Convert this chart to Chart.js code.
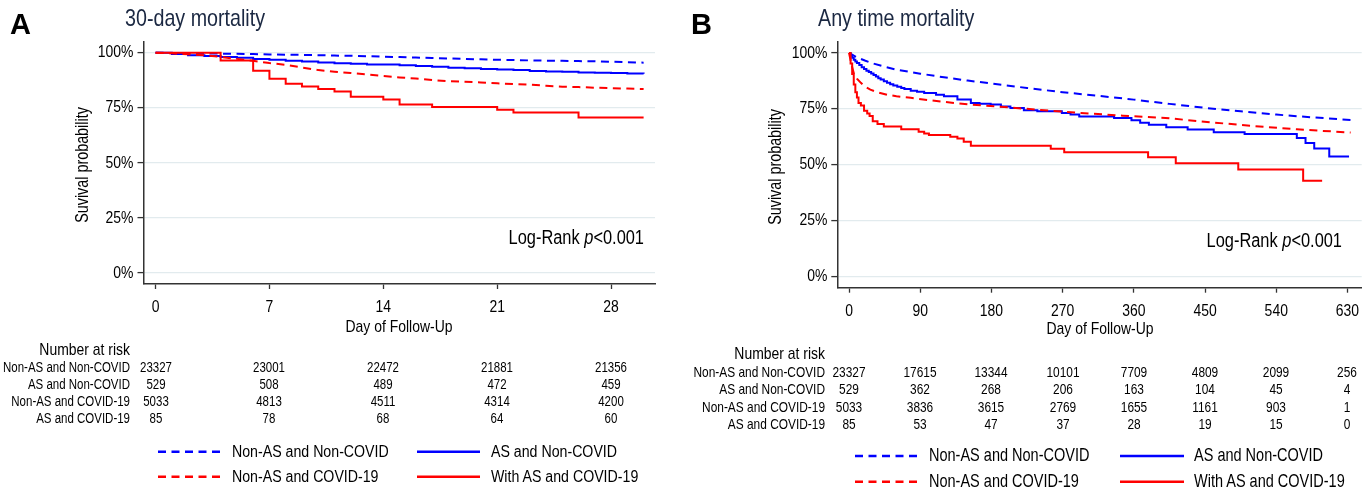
<!DOCTYPE html>
<html><head><meta charset="utf-8">
<script src="https://cdn.jsdelivr.net/npm/chart.js@4.4.1/dist/chart.umd.min.js"></script>
<style>
html,body{margin:0;padding:0;background:#fff;width:1372px;height:490px;overflow:hidden;}
body{position:relative;color:#000;}
.t{position:absolute;white-space:nowrap;line-height:1;}
canvas{position:absolute;top:0;}
svg{position:absolute;left:0;top:0;}
</style></head><body>
<canvas id="cA" width="686" height="345" style="left:0px"></canvas>
<canvas id="cB" width="682" height="345" style="left:690px"></canvas>
<svg id="lg" width="1372" height="490"></svg>
<script>
// ---------------- DATA ----------------
const groupNames = ["Non-AS and Non-COVID", "AS and Non-COVID", "Non-AS and COVID-19", "AS and COVID-19"];
const legendNames = ["Non-AS and Non-COVID", "AS and Non-COVID", "Non-AS and COVID-19", "With AS and COVID-19"];

// Panel A: 30-day mortality (survival %, by day)
const A_ticks = [0, 7, 14, 21, 28];
const A_days = [0,1,2,3,4,5,6,7,8,9,10,11,12,13,14,15,16,17,18,19,20,21,22,23,24,25,26,27,28,29,30];
const A_nonAS_nonCOVID = [100,99.9,99.8,99.7,99.6,99.5,99.4,99.2,99.1,99.0,98.9,98.7,98.6,98.4,98.2,98.0,97.8,97.6,97.4,97.2,97.0,96.8,96.7,96.5,96.4,96.3,96.2,96.1,95.9,95.7,95.5];
const A_AS_nonCOVID = [100,99.4,98.9,98.5,98.1,97.7,97.2,96.8,96.4,96.0,95.6,95.2,95.0,94.7,94.6,94.3,94.0,93.6,93.2,93.0,92.6,92.4,92.1,91.7,91.5,91.4,91.0,90.9,90.8,90.6,90.5];
const A_nonAS_COVID = [100,99.7,99.3,98.8,98.1,97.2,96.3,95.3,94.5,93.3,92.1,91.4,90.8,90.1,89.4,88.8,88.3,87.6,87.1,86.8,86.5,86.1,85.8,85.5,85.0,84.6,84.4,84.1,83.9,83.7,83.5];
const A_AS_COVID_days = [0,4,6,7,8,9,10,11,12,14,15,17,21,22,26,30];
const A_AS_COVID = [100,96.5,91.8,88.2,85.9,84.7,83.5,82.4,80.0,78.8,76.5,75.3,74.1,72.9,70.6,70.6];
const A_risk = [
  [23327, 23001, 22472, 21881, 21356],
  [529, 508, 489, 472, 459],
  [5033, 4813, 4511, 4314, 4200],
  [85, 78, 68, 64, 60]
];

// Panel B: any time mortality
const B_ticks = [0, 90, 180, 270, 360, 450, 540, 630];
const B_nonAS_nonCOVID_days = [0,10,20,30,45,60,90,120,150,180,225,270,315,360,405,450,495,540,585,634];
const B_nonAS_nonCOVID = [100,98.0,96.6,95.3,93.8,92.5,90.7,89.1,87.6,86.3,84.3,82.4,80.8,79.1,77.2,75.4,73.9,72.4,71.2,70.0];
const B_AS_nonCOVID_days = [0,2,4,6,8,10,13,16,19,22,25,28,31,34,37,40,44,48,52,56,61,66,70,78,86,95,110,120,137,154,165,179,192,204,221,238,269,280,291,335,357,368,379,401,428,461,500,566,577,588,607,632];
const B_AS_nonCOVID = [100,98.8,97.8,96.9,96.1,95.5,94.6,93.6,92.8,92.0,91.4,90.8,90.1,89.4,88.7,88.1,87.3,86.6,86.0,85.4,84.8,84.3,83.8,83.1,82.6,82.1,81.3,80.6,79.1,77.6,77.2,76.9,76.0,75.4,74.3,73.9,73.1,72.4,71.6,70.9,69.9,68.8,67.9,66.7,65.7,64.5,63.7,61.9,59.7,57.2,53.7,53.7];
const B_nonAS_COVID_days = [0,3,6,10,15,20,27,35,48,60,78,100,130,154,196,238,290,346,400,456,511,566,634];
const B_nonAS_COVID = [100,95.0,91.0,88.5,86.6,85.0,83.6,82.5,81.3,80.6,79.9,78.9,77.7,76.9,75.8,74.6,73.2,71.9,70.9,69.0,67.3,65.8,64.4];
const B_AS_COVID_days = [0,2,4,6,8,10,12,15,19,23,26,30,36,44,66,88,95,101,128,137,145,154,255,272,378,413,492,574,598];
const B_AS_COVID = [100,95.3,90.6,85.9,82.4,80.0,77.6,76.5,74.1,72.9,71.8,69.4,68.2,67.1,65.9,64.7,64.0,63.3,62.5,61.7,60.3,58.5,57.1,55.6,53.3,50.7,47.8,42.8,42.8];
const B_risk = [
  [23327, 17615, 13344, 10101, 7709, 4809, 2099, 256],
  [529, 362, 268, 206, 163, 104, 45, 4],
  [5033, 3836, 3615, 2769, 1655, 1161, 903, 1],
  [85, 53, 47, 37, 28, 19, 15, 0]
];
const Y_ticks = [0, 25, 50, 75, 100];

// ---------------- FONT ----------------
function hasFont(name){
  const ctx=document.createElement('canvas').getContext('2d');
  const s='Non-AS and Non-COVID 0123456789%';
  ctx.font='40px monospace'; const a=ctx.measureText(s).width;
  ctx.font='40px "'+name+'", monospace'; const b=ctx.measureText(s).width;
  ctx.font='40px serif'; const c=ctx.measureText(s).width;
  ctx.font='40px "'+name+'", serif'; const d=ctx.measureText(s).width;
  return Math.abs(a-b)>0.5 || Math.abs(c-d)>0.5;
}
const NARROW = ['Liberation Sans Narrow','Arial Narrow'].find(hasFont);
const FAM = NARROW ? '"'+NARROW+'", "Liberation Sans", Arial, sans-serif' : '"Liberation Sans", Arial, sans-serif';
const SX = NARROW ? 1 : 0.82;   // horizontal condensing to mimic a narrow face
const CANVAS_FS = 17;

const BLUE = '#0000ff', RED = '#ff0000';
const DASH = [8, 5.5];

// condense canvas tick labels around their anchor point
const narrowPlugin = {
  id: 'narrowText',
  beforeDraw(chart){
    if (SX === 1) return;
    const ctx = chart.ctx;
    const orig = ctx.fillText;
    chart.$origFill = orig;
    ctx.fillText = function(t, x, y){
      this.save(); this.translate(x, y); this.scale(SX, 1);
      orig.call(this, t, 0, 0);
      this.restore();
    };
  },
  afterDraw(chart){
    if (chart.$origFill) { delete chart.ctx.fillText; chart.$origFill = null; }
  }
};

// ---------------- TEXT HELPERS ----------------
function T(str, x, y, o){
  o = o || {};
  const d = document.createElement('div');
  d.className = 't';
  if (o.html) d.innerHTML = str; else d.textContent = str;
  d.style.left = x+'px'; d.style.top = y+'px';
  d.style.fontSize = (o.size||14)+'px';
  d.style.fontFamily = o.family || FAM;
  if (o.bold) d.style.fontWeight = 'bold';
  d.style.color = o.color || '#000';
  const al = o.align || 'left';
  const sx = o.noscale ? 1 : SX;
  let tr, orig;
  if (o.rotate) { tr = 'translate(-50%,-50%) rotate(-90deg) scaleX('+sx+')'; orig = 'center center'; }
  else if (al === 'left') { tr = 'translate(0,-50%) scaleX('+sx+')'; orig = 'left center'; }
  else if (al === 'right') { tr = 'translate(-100%,-50%) scaleX('+sx+')'; orig = 'right center'; }
  else { tr = 'translate(-50%,-50%) scaleX('+sx+')'; orig = 'center center'; }
  d.style.transform = tr; d.style.transformOrigin = orig;
  document.body.appendChild(d);
  return d;
}

// ---------------- CHARTS ----------------
function pts(xs, ys){ return xs.map((x,i)=>({x:x, y:ys[i]})); }

function makeKM(id, P){
  return new Chart(document.getElementById(id), {
    type: 'line',
    plugins: [narrowPlugin],
    data: { datasets: [
      { label: legendNames[3], data: pts(P.d4x, P.d4y), borderColor: RED, borderWidth: 2, stepped: true, order: 0 },
      { label: legendNames[2], data: pts(P.d3x, P.d3y), borderColor: RED, borderWidth: 2, borderDash: DASH, stepped: false, order: 1 },
      { label: legendNames[1], data: pts(P.d2x, P.d2y), borderColor: BLUE, borderWidth: 2, stepped: true, order: 2 },
      { label: legendNames[0], data: pts(P.d1x, P.d1y), borderColor: BLUE, borderWidth: 2, borderDash: DASH, stepped: false, order: 3 }
    ]},
    options: {
      responsive: false, animation: false, devicePixelRatio: 1,
      layout: { padding: { left: 0, top: P.top, right: P.right, bottom: 0 } },
      plugins: { legend: { display: false }, tooltip: { enabled: false } },
      elements: { point: { radius: 0 }, line: { tension: 0, fill: false, borderCapStyle: 'butt' } },
      scales: {
        x: {
          type: 'linear', min: P.xmin, max: P.xmax,
          afterFit: s => { s.height = P.xh; },
          afterBuildTicks: s => { s.ticks = P.ticks.map(v => ({ value: v })); },
          grid: { drawOnChartArea: false, tickLength: 5, tickColor: '#333', tickWidth: 1.3 },
          border: { color: '#333', width: 1.5 },
          ticks: { autoSkip: false, maxRotation: 0, padding: 8, color: '#000', font: { family: FAM, size: CANVAS_FS }, callback: v => String(v) }
        },
        y: {
          type: 'linear', min: -5, max: 105,
          afterFit: s => { s.width = P.yw; },
          afterBuildTicks: s => { s.ticks = Y_ticks.map(v => ({ value: v })); },
          grid: { color: '#e2ebee', lineWidth: 1.2, tickLength: 6, tickColor: '#333', tickWidth: 1.3 },
          border: { color: '#333', width: 1.5 },
          ticks: { padding: 4, color: '#000', font: { family: FAM, size: CANVAS_FS }, callback: v => v + '%' }
        }
      }
    }
  });
}

const chartA = makeKM('cA', {
  d1x: A_days, d1y: A_nonAS_nonCOVID, d2x: A_days, d2y: A_AS_nonCOVID,
  d3x: A_days, d3y: A_nonAS_COVID, d4x: A_AS_COVID_days, d4y: A_AS_COVID,
  ticks: A_ticks, xmin: -0.74, xmax: 30.7,
  top: 41.7, right: 31, yw: 143.5, xh: 61
});
const chartB = makeKM('cB', {
  d1x: B_nonAS_nonCOVID_days, d1y: B_nonAS_nonCOVID, d2x: B_AS_nonCOVID_days, d2y: B_AS_nonCOVID,
  d3x: B_nonAS_COVID_days, d3y: B_nonAS_COVID, d4x: B_AS_COVID_days, d4y: B_AS_COVID,
  ticks: B_ticks, xmin: -14.8, xmax: 648,
  top: 41.7, right: 10.3, yw: 147.3, xh: 57.3
});

// ---------------- ANNOTATION TEXT ----------------
function panelText(chart, offX, L){
  const ca = chart.chartArea;
  const cx = offX + (ca.left + ca.right)/2;
  T(L.letter, L.letterX, 24, { size: 29, bold: true, family: '"Liberation Sans", Arial, sans-serif', noscale: true });
  T(L.title, L.titleX, 18, { size: 24, color: '#1b2842' });
  T('Suvival probability', offX + ca.left - 61, (ca.top+ca.bottom)/2 + 2, { size: 17.5, rotate: true });
  T('Day of Follow-Up', cx, L.xtitleY, { size: 17, align: 'center' });
  T('Log-Rank <i>p</i>&lt;0.001', offX + ca.right - L.lrRight, L.lrY, { size: 20, align: 'right', html: true });
  const xs = chart.scales.x;
  T('Number at risk', L.labelRight, L.riskY[0], { size: 17, align: 'right' });
  groupNames.forEach((g, r) => {
    T(g, L.labelRight, L.riskY[r+1], { size: L.riskFs, align: 'right' });
    L.risk[r].forEach((n, c) => {
      T(String(n), offX + xs.getPixelForValue(L.ticks[c]), L.riskY[r+1], { size: L.riskFs, align: 'center' });
    });
  });
  const svg = document.getElementById('lg');
  const ns = 'http://www.w3.org/2000/svg';
  const items = [
    [L.lgX[0], L.lgY[0], BLUE, true, legendNames[0]],
    [L.lgX[1], L.lgY[0], BLUE, false, legendNames[1]],
    [L.lgX[0], L.lgY[1], RED, true, legendNames[2]],
    [L.lgX[1], L.lgY[1], RED, false, legendNames[3]]
  ];
  items.forEach(([x, y, col, dashed, name]) => {
    const ln = document.createElementNS(ns, 'line');
    ln.setAttribute('x1', x); ln.setAttribute('x2', x + L.lgLen);
    ln.setAttribute('y1', y); ln.setAttribute('y2', y);
    ln.setAttribute('stroke', col); ln.setAttribute('stroke-width', 2.4);
    if (dashed) ln.setAttribute('stroke-dasharray', DASH.join(' '));
    svg.appendChild(ln);
    T(name, x + L.lgLen + L.lgGap, y, { size: L.lgFs });
  });
}

panelText(chartA, 0, {
  letter: 'A', letterX: 10, title: '30-day mortality', titleX: 125, xtitleY: 326,
  lrRight: 10.6, lrY: 236.5, labelRight: 130, riskY: [348.5, 367, 384, 401, 418], riskFs: 14,
  risk: A_risk, ticks: A_ticks, lgX: [158, 417], lgY: [451.7, 476.7], lgLen: 63, lgGap: 11, lgFs: 17.3
});
panelText(chartB, 690, {
  letter: 'B', letterX: 691, title: 'Any time mortality', titleX: 818, xtitleY: 328,
  lrRight: 20, lrY: 240, labelRight: 825, riskY: [353, 372, 389, 406.5, 423.5], riskFs: 14.5,
  risk: B_risk, ticks: B_ticks, lgX: [855, 1120], lgY: [456, 481.7], lgLen: 64, lgGap: 10, lgFs: 17.7
});
</script>
</body></html>
